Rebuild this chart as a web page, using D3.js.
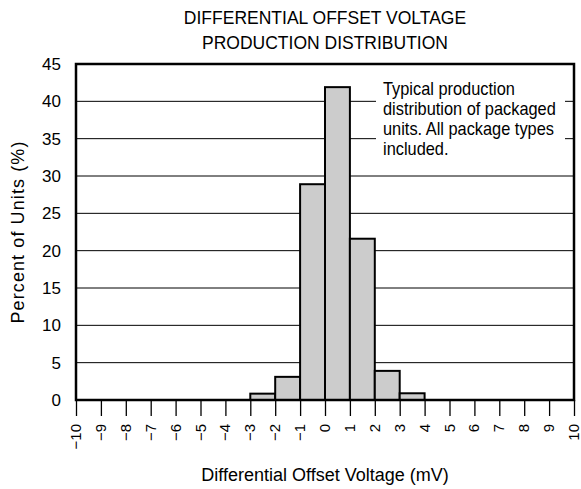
<!DOCTYPE html>
<html>
<head>
<meta charset="utf-8">
<script src="https://cdn.jsdelivr.net/npm/d3@7"></script>
<style>
  body { margin: 0; background: #fff; }
  text { font-family: "Liberation Sans", Arial, sans-serif; fill: #000; }
  .note { font-family: "Liberation Sans", Arial, sans-serif; font-size: 18px; }
</style>
</head>
<body>
<div id="chart"></div>
<script>
// Histogram of differential offset voltage

const WIDTH = 581
const HEIGHT = 489
const MARGIN = { top: 64, bot: 89, left: 76, right: 7 }

// bins (mV, left edges) and percent of units
const binStarts = [-3, -2, -1, 0, 1, 2, 3]
const percents = [0.85, 3.1, 28.9, 41.9, 21.6, 3.9, 0.9]
const xTicks = d3.range(-10, 11)
const yTicks = [0, 5, 10, 15, 20, 25, 30, 35, 40, 45]
const noteLines = ["Typical production", "distribution of packaged", "units. All package types", "included."]

const svg = d3.select("#chart")
  .append("svg")
  .attr("width", WIDTH)
  .attr("height", HEIGHT)

const x = d3.scaleLinear()
  .domain([-10, 10])
  .range([MARGIN.left, WIDTH - MARGIN.right])

const y = d3.scaleLinear()
  .domain([0, 45])
  .range([HEIGHT - MARGIN.bot, MARGIN.top])

// gridlines
svg.append("g")
  .selectAll("line")
  .data(yTicks.slice(1))
  .join("line")
  .attr("x1", x(-10))
  .attr("x2", x(10))
  .attr("y1", d => y(d))
  .attr("y2", d => y(d))
  .attr("stroke", "#000")
  .attr("stroke-width", 1)

// white box behind the note
svg.append("rect")
  .attr("x", 376)
  .attr("y", 76)
  .attr("width", 189)
  .attr("height", 84)
  .attr("fill", "#fff")

// narrow type for the note
svg.append("g")
  .attr("transform", "translate(383, 0) scale(0.91, 1)")
  .selectAll("text")
  .data(noteLines)
  .join("text")
  .attr("class", "note")
  .attr("x", 0)
  .attr("y", (d, i) => 95 + 20 * i)
  .text(d => d)

// bars
svg.append("g")
  .selectAll("rect")
  .data(binStarts)
  .join("rect")
  .attr("x", d => x(d))
  .attr("width", d => x(d + 1) - x(d))
  .attr("y", (d, i) => y(percents[i]))
  .attr("height", (d, i) => y(0) - y(percents[i]))
  .attr("fill", "#cccccc")
  .attr("stroke", "#000")
  .attr("stroke-width", 2)

// x axis ticks below the frame
const xAxis = d3.axisBottom(x)
  .tickValues(xTicks)
  .tickSize(16)
  .tickFormat(d => String(d).replace("-", "\u2212"))

const gx = svg.append("g")
  .attr("transform", `translate(0, ${y(0)})`)
  .call(xAxis)
gx.select(".domain").remove()
gx.selectAll("line").attr("stroke", "#000").attr("stroke-width", 1.3)
gx.selectAll("text")
  .attr("font-size", 15)
  .style("text-anchor", "end")
  .attr("transform", "rotate(-90)")
  .attr("x", -24)
  .attr("y", 0)
  .attr("dy", "0.3em")

// y axis labels
const yAxis = d3.axisLeft(y)
  .tickValues(yTicks)
  .tickSize(0)
  .tickPadding(15)

const gy = svg.append("g")
  .attr("transform", `translate(${MARGIN.left}, 0)`)
  .call(yAxis)
gy.select(".domain").remove()
gy.selectAll("text").attr("font-size", 17)

// frame
svg.append("rect")
  .attr("x", x(-10))
  .attr("y", y(45))
  .attr("width", x(10) - x(-10))
  .attr("height", y(0) - y(45))
  .attr("fill", "none")
  .attr("stroke", "#000")
  .attr("stroke-width", 2.5)

// titles
svg.append("text")
  .attr("x", 325)
  .attr("y", 24)
  .attr("text-anchor", "middle")
  .attr("font-size", 17.5)
  .text("DIFFERENTIAL OFFSET VOLTAGE")

svg.append("text")
  .attr("x", 325)
  .attr("y", 49)
  .attr("text-anchor", "middle")
  .attr("font-size", 17.5)
  .text("PRODUCTION DISTRIBUTION")

svg.append("text")
  .attr("x", 325)
  .attr("y", 481)
  .attr("text-anchor", "middle")
  .attr("font-size", 18)
  .text("Differential Offset Voltage (mV)")

svg.append("text")
  .attr("transform", `translate(24, ${(y(0) + y(45)) / 2}) rotate(-90)`)
  .attr("text-anchor", "middle")
  .attr("font-size", 18)
  .attr("letter-spacing", 1.1)
  .text("Percent of Units (%)")
</script>
</body>
</html>
